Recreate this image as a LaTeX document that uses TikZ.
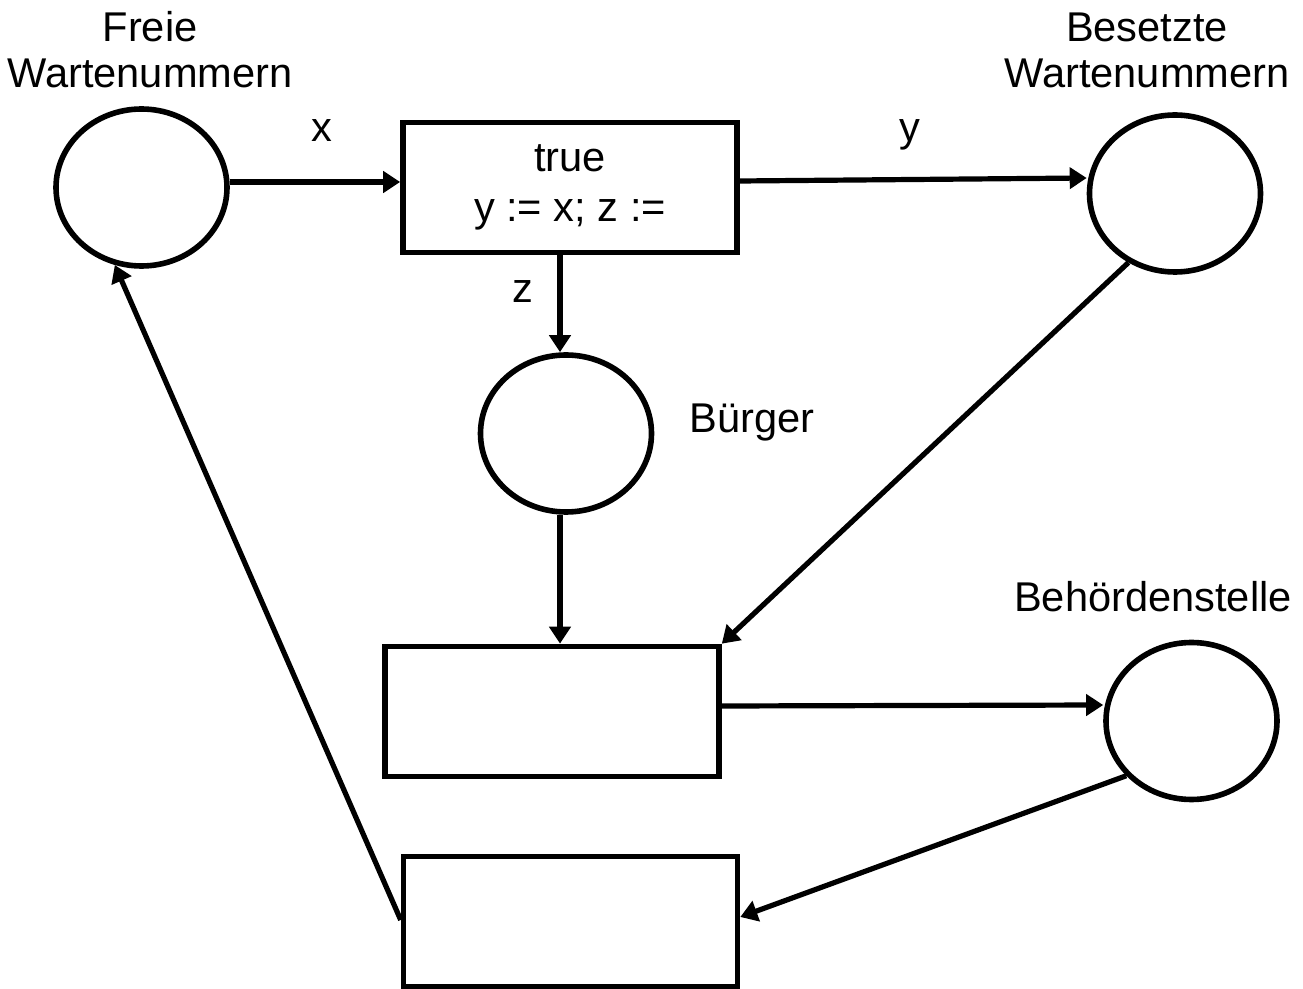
\documentclass[tikz,border=0pt]{standalone}
\usepackage{fontspec}
\setmainfont{Liberation Sans}
\usetikzlibrary{shapes.geometric,arrows.meta}
\tikzset{
  place/.style={draw, ellipse, line width=2.8pt, minimum width=85.5pt, minimum height=78.5pt, inner sep=0pt},
  trans/.style={draw, rectangle, line width=2.8pt, minimum width=167pt, minimum height=65pt, inner sep=0pt, align=center},
  arr/.style={line width=2.6pt, -{Triangle[length=8.5pt,width=10.5pt]}},
  lbl/.style={font=\fontsize{20.8}{23}\selectfont, align=center, inner sep=0pt}
}
\begin{document}
\begin{tikzpicture}[x=0.5pt,y=-0.5pt]
\useasboundingbox (0,0) rectangle (1303,989);
\node[place] (c1) at (141.5,187.5) {};
\node[trans, lbl] (b1) at (570,187.5) {true\\[2pt]y := x; z :=};
\node[place] (c2) at (1175,193.5) {};
\node[place] (c3) at (566,433.5) {};
\node[trans] (b2) at (552,711.5) {};
\node[place] (c4) at (1191.5,721) {};
\node[trans] (b3) at (570.5,921.5) {};

\node[lbl, anchor=base] (l1) at (150,88) {Freie\\Wartenummern};
\node[lbl, anchor=base] (l2) at (1147,88) {Besetzte\\Wartenummern};
\node[lbl, anchor=base] (l3) at (752,433) {Bürger};
\node[lbl, anchor=base] (l4) at (1153,612) {Behördenstelle};
\node[lbl, anchor=base] (lx) at (322,142) {x};
\node[lbl, anchor=base] (ly) at (910,142) {y};
\node[lbl, anchor=base] (lz) at (523,303) {z};

\draw[arr] (c1.east |- 0,182) -- (b1.west |- 0,182);
\draw[arr] (b1.east |- 0,181) -- (c2.west |- 0,178);
\draw[arr] (560,0 |- b1.south) -- (560,0 |- c3.north);
\draw[arr] (560,0 |- c3.south) -- (560,0 |- b2.north);
\draw[arr] (c2.236) -- (b2.north east);
\draw[arr] (b2.east |- 0,706) -- (c4.west |- 0,705);
\draw[arr] (c4.220) -- (b3.east |- 0,917);
\draw[arr] (b3.west |- 0,920) -- (c1.251);
\end{tikzpicture}
\end{document}
